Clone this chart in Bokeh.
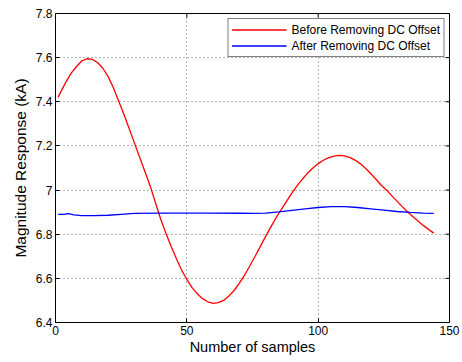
import math
from bokeh.plotting import figure
from bokeh.models import (FixedTicker, NumeralTickFormatter, Range1d, Legend, LegendItem)
from bokeh.embed import file_html
from bokeh.resources import INLINE

# Data
red_x = [1, 2, 4, 6, 8, 10, 12, 14, 16, 18, 20, 22, 24, 26, 28, 30, 32, 34, 36, 38, 40,
         42, 44, 46, 48, 50, 52, 54, 56, 58, 60, 62, 64, 66, 68, 70, 72, 74, 76, 78, 80,
         82, 84, 86, 88, 90, 92, 94, 96, 98, 100, 102, 104, 106, 108, 110, 112, 114, 116,
         118, 120, 122, 124, 126, 128, 130, 132, 134, 136, 138, 140, 142, 144]
red_y = [7.420, 7.445, 7.490, 7.530, 7.560, 7.585, 7.595, 7.592, 7.578, 7.552, 7.515,
         7.465, 7.405, 7.345, 7.280, 7.215, 7.150, 7.085, 7.020, 6.945, 6.870, 6.805,
         6.745, 6.690, 6.638, 6.595, 6.558, 6.530, 6.508, 6.494, 6.487, 6.490, 6.500,
         6.520, 6.545, 6.578, 6.615, 6.657, 6.700, 6.745, 6.790, 6.833, 6.875, 6.913,
         6.950, 6.986, 7.020, 7.050, 7.077, 7.100, 7.120, 7.135, 7.147, 7.154, 7.157,
         7.155, 7.148, 7.136, 7.120, 7.099, 7.075, 7.049, 7.022, 7.000, 6.975, 6.950,
         6.925, 6.902, 6.880, 6.860, 6.840, 6.822, 6.805]

blue_x = [1, 3, 5, 7, 10, 15, 20, 25, 30, 40, 50, 60, 70, 75, 80, 85, 90, 95, 100, 105,
          110, 115, 120, 125, 130, 135, 140, 144]
blue_y = [6.890, 6.890, 6.893, 6.888, 6.884, 6.884, 6.886, 6.890, 6.894, 6.896, 6.896,
          6.896, 6.895, 6.894, 6.896, 6.901, 6.908, 6.915, 6.921, 6.925, 6.925, 6.921,
          6.915, 6.909, 6.903, 6.899, 6.896, 6.894]

x_ticks = [0, 50, 100, 150]
y_ticks = [6.4, 6.6, 6.8, 7.0, 7.2, 7.4, 7.6, 7.8]
series_labels = ["Before Removing DC Offset", "After Removing DC Offset"]

FONT = "Liberation Sans"
X0, X1, Y0, Y1 = 0, 150, 6.4, 7.8

p = figure(width=462, height=362, output_backend="svg", toolbar_location=None,
           x_range=Range1d(X0, X1), y_range=Range1d(Y0, Y1),
           min_border_left=55, min_border_right=13, min_border_top=13, min_border_bottom=40)
p.background_fill_color = "white"
p.border_fill_color = "white"
p.outline_line_color = "black"
p.outline_line_width = 1

p.grid.grid_line_color = "#666666"
p.grid.grid_line_dash = "1 3"
p.grid.grid_line_width = 1
p.xgrid.ticker = FixedTicker(ticks=x_ticks)
p.ygrid.ticker = FixedTicker(ticks=y_ticks)

r1 = p.line(red_x, red_y, line_color="#ff0000", line_width=1.3)
r2 = p.line(blue_x, blue_y, line_color="#0000ff", line_width=1.3)

for ax in [p.xaxis[0], p.yaxis[0]]:
    ax.axis_line_color = "black"
    ax.major_tick_in = 4
    ax.major_tick_out = 0
    ax.minor_tick_line_color = None
    ax.major_label_text_font = FONT
    ax.major_label_text_font_size = "12px"
    ax.major_label_text_color = "black"
    ax.axis_label_text_font = FONT
    ax.axis_label_text_font_style = "normal"
    ax.axis_label_text_color = "black"

p.xaxis.axis_label_text_font_size = "14.5px"
p.yaxis.axis_label_text_font_size = "15.5px"
p.xaxis.ticker = FixedTicker(ticks=x_ticks)
p.yaxis.ticker = FixedTicker(ticks=y_ticks)
p.yaxis.formatter = NumeralTickFormatter(format="0.[0]")
p.xaxis.axis_label = "Number of samples"
p.yaxis.axis_label = "Magnitude Response (kA)"
p.xaxis.major_label_standoff = 3
p.yaxis.major_label_standoff = 3
p.xaxis.axis_label_standoff = 1
p.yaxis.axis_label_standoff = 4

# mirrored ticks on the top and right edges of the box
p.ray(x=x_ticks, y=[Y1] * len(x_ticks), length=4, length_units="screen",
      angle=-math.pi / 2, line_color="black", line_width=1)
p.ray(x=[X1] * len(y_ticks), y=y_ticks, length=4, length_units="screen",
      angle=math.pi, line_color="black", line_width=1)

legend = Legend(items=[LegendItem(label=series_labels[0], renderers=[r1]),
                       LegendItem(label=series_labels[1], renderers=[r2])],
                location="top_right")
legend.label_text_font = FONT
legend.label_text_font_size = "12px"
legend.label_text_color = "black"
legend.glyph_width = 55
legend.glyph_height = 15
legend.label_height = 15
legend.label_standoff = 5
legend.spacing = 1
legend.padding = 3
legend.margin = 5
legend.border_line_color = "black"
legend.border_line_width = 1
legend.background_fill_alpha = 1
p.add_layout(legend)

open("out.html", "w").write(file_html(p, INLINE))
